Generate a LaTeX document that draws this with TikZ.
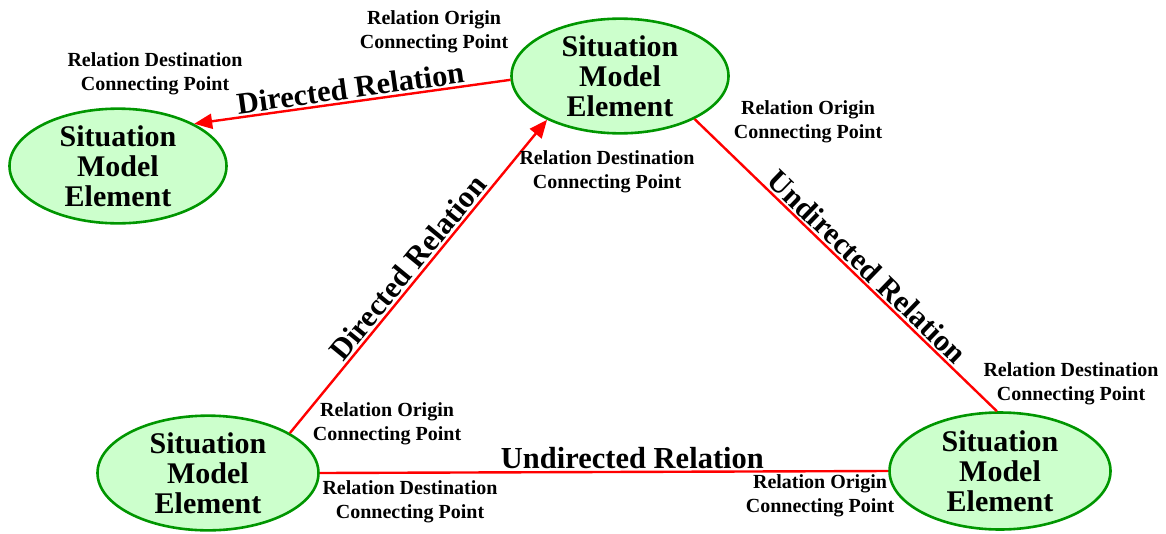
\documentclass[tikz,border=0pt]{standalone}
\usepackage{fontspec}
\setmainfont{Liberation Serif}
\usetikzlibrary{shapes.geometric,arrows.meta}
\definecolor{elemfill}{RGB}{204,255,204}
\definecolor{elemdraw}{RGB}{0,150,0}
\definecolor{relred}{RGB}{255,0,0}
\tikzset{
  element/.style={ellipse, draw=elemdraw, fill=elemfill, line width=2.6pt,
    inner sep=0pt, align=center,
    font=\bfseries\fontsize{30}{30}\selectfont},
  relation/.style={draw=relred, line width=2.4pt},
  directed/.style={relation, -{Triangle[length=18pt,width=15pt]}},
  rellabel/.style={font=\bfseries\fontsize{30.5}{30}\selectfont, inner sep=2pt, sloped},
  cpoint/.style={align=center, inner sep=0pt,
    font=\bfseries\fontsize{20}{24}\selectfont}
}
\begin{document}
\begin{tikzpicture}[x=1pt,y=-1pt]
\useasboundingbox (0,0) rectangle (1166,533);

% situation model elements
\node[element, minimum width=217pt, minimum height=105pt] (A) at (118,166) {Situation\\Model\\Element};
\node[element, minimum width=217pt, minimum height=108pt] (B) at (620,76) {Situation\\Model\\Element};
\node[element, minimum width=221pt, minimum height=106pt] (C) at (208,473) {Situation\\Model\\Element};
\node[element, minimum width=221pt, minimum height=117pt] (D) at (1000,471) {Situation\\Model\\Element};

% relations between the elements
\draw[directed] (B.182) -- node[rellabel, above, pos=0.5] {Directed Relation} (A.29);
\draw[directed] (C.26) -- node[rellabel, above, pos=0.5] {Directed Relation} (B.211);
\draw[relation] (B.330) -- node[rellabel, above, pos=0.54] {Undirected Relation} (D.93);
\draw[relation] (C.east) -- node[rellabel, above, pos=0.55] {Undirected Relation} (D.west);

% connecting point captions
\node[cpoint] (p1) at (434,32) {Relation Origin\\Connecting Point};
\node[cpoint] (p2) at (155,74) {Relation Destination\\Connecting Point};
\node[cpoint] (p3) at (808,122) {Relation Origin\\Connecting Point};
\node[cpoint] (p4) at (607,172) {Relation Destination\\Connecting Point};
\node[cpoint] (p5) at (1071,384) {Relation Destination\\Connecting Point};
\node[cpoint] (p6) at (387,424) {Relation Origin\\Connecting Point};
\node[cpoint] (p7) at (410,502) {Relation Destination\\Connecting Point};
\node[cpoint] (p8) at (820,496) {Relation Origin\\Connecting Point};
\end{tikzpicture}
\end{document}
